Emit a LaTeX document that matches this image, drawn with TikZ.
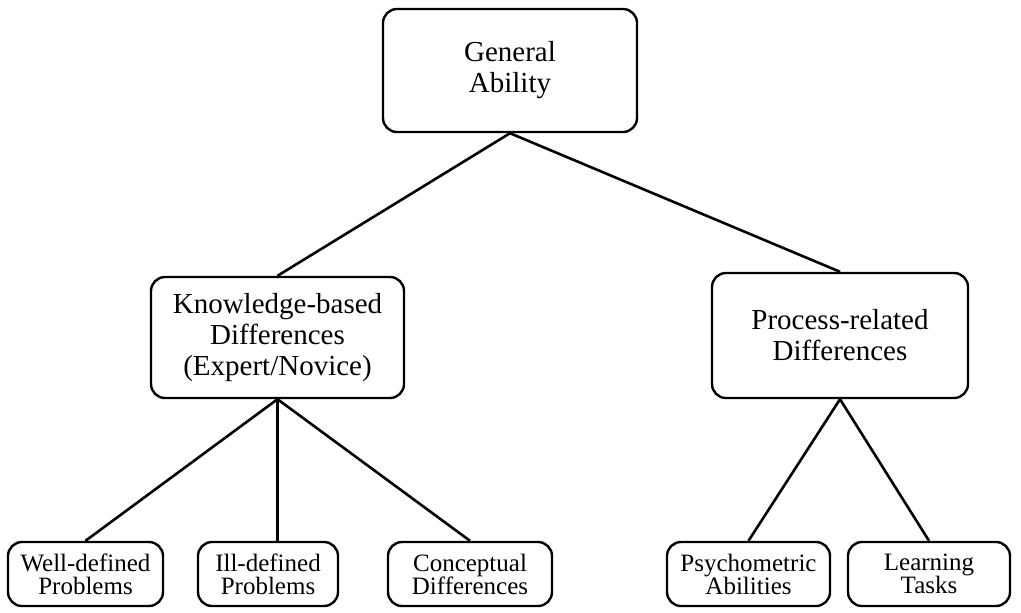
\documentclass[tikz,border=0pt]{standalone}
\usepackage{fontspec}
\setmainfont{Liberation Serif}

\begin{document}
\begin{tikzpicture}[x=0.5pt,y=-0.5pt,
    box/.style={draw, line width=1.2pt, rounded corners=7pt, align=center, inner sep=0pt},
    bigbox/.style={box, font=\fontsize{14.5}{15.5}\selectfont},
    smallbox/.style={box, font=\fontsize{12.5}{11.5}\selectfont, minimum height=32pt},
    link/.style={line width=1.3pt}]
    \useasboundingbox (0,0) rectangle (1021,612);
    % oberste Ebene:
    \node[bigbox, minimum width=127pt, minimum height=61.5pt] (ga) at (510,70.5) {General\\Ability};
    % mittlere Ebene:
    \node[bigbox, minimum width=126.5pt, minimum height=60.5pt] (kb) at (277.5,337.5) {Knowledge-based\\Differences\\(Expert/Novice)};
    \node[bigbox, minimum width=128pt, minimum height=62.5pt] (pr) at (840,335.5) {Process-related\\Differences};
    % unterste Ebene:
    \node[smallbox, minimum width=77.5pt] (wd) at (85.5,574) {Well-defined\\Problems};
    \node[smallbox, minimum width=70pt] (id) at (268,574) {Ill-defined\\Problems};
    \node[smallbox, minimum width=82pt] (cd) at (470,574) {Conceptual\\Differences};
    \node[smallbox, minimum width=81.5pt] (pa) at (748.5,574) {Psychometric\\Abilities};
    \node[smallbox, minimum width=81pt] (lt) at (929,574) {Learning\\Tasks};
    % Verbindungen:
    \draw[link] (ga.south) -- (kb.north);
    \draw[link] (ga.south) -- (pr.north);
    \draw[link] (kb.south) -- (wd.north);
    \draw[link] (kb.south) -- (kb.south |- id.north); % senkrecht
    \draw[link] (kb.south) -- (cd.north);
    \draw[link] (pr.south) -- (pa.north);
    \draw[link] (pr.south) -- (lt.north);
\end{tikzpicture}
\end{document}
